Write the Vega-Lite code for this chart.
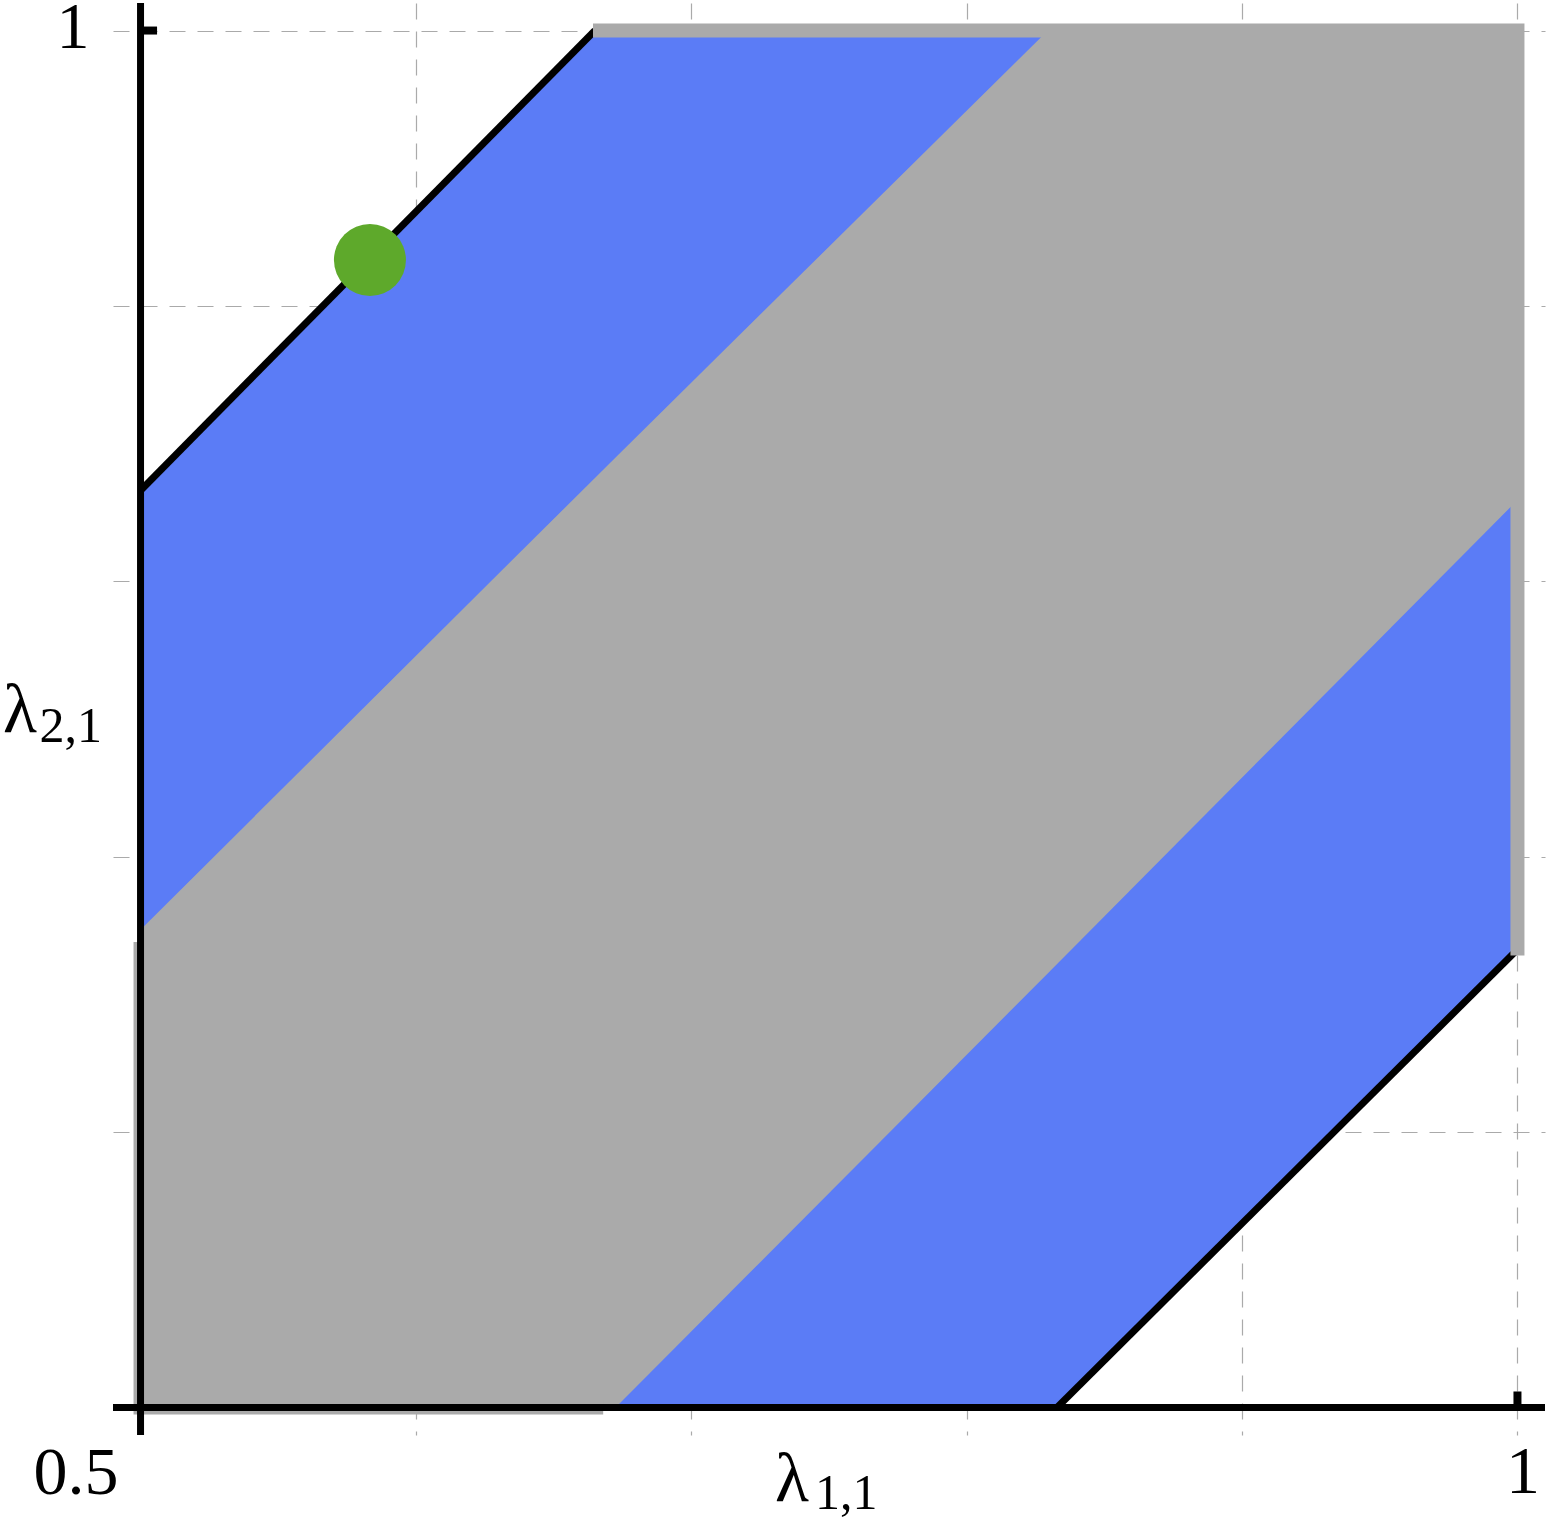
{
  "$schema": "https://vega.github.io/schema/vega-lite/v6.json",
  "width": 1432,
  "height": 1432,
  "autosize": {"type": "none"},
  "padding": {"left": 113, "top": 3, "right": 9, "bottom": 86},
  "background": "white",
  "config": {"view": {"stroke": null}},
  "encoding": {
    "x": {"field": "x", "type": "quantitative",
      "scale": {"domain": [0.49, 1.01], "nice": false, "zero": false},
      "axis": {"values": [0.6, 0.7, 0.8, 0.9, 1.0], "grid": true, "labels": false, "ticks": false, "domain": false, "title": null,
        "gridDash": [16, 12], "gridColor": "#aaaaaa", "gridWidth": 1.2}},
    "y": {"field": "y", "type": "quantitative",
      "scale": {"domain": [0.49, 1.01], "nice": false, "zero": false},
      "axis": {"values": [0.6, 0.7, 0.8, 0.9, 1.0], "grid": true, "labels": false, "ticks": false, "domain": false, "title": null,
        "gridDash": [16, 12], "gridColor": "#aaaaaa", "gridWidth": 1.2}}
  },
  "layer": [
    {
      "data": {"values": [
        {"x": 0.5, "y": 0.5, "y2": 0.833},
        {"x": 0.665, "y": 0.5, "y2": 1.0},
        {"x": 0.8328, "y": 0.5, "y2": 1.0},
        {"x": 1.0, "y": 0.6663, "y2": 1.0}
      ]},
      "mark": {"type": "area", "color": "#5B7CF6", "orient": "vertical", "opacity": 1},
      "encoding": {"y2": {"field": "y2"}}
    },
    {
      "data": {"values": [
        {"x": 0.5, "y": 0.5, "y2": 0.6735},
        {"x": 0.6725, "y": 0.5, "y2": 0.845},
        {"x": 0.8295, "y": 0.6577, "y2": 1.0},
        {"x": 1.0, "y": 0.8295, "y2": 1.0}
      ]},
      "mark": {"type": "area", "color": "#AAAAAA", "orient": "vertical", "opacity": 1},
      "encoding": {"y2": {"field": "y2"}}
    },
    {
      "data": {"values": [
        {"path": "lb", "seq": 1, "x": 0.5, "y": 0.669},
        {"path": "lb", "seq": 2, "x": 0.5, "y": 0.5},
        {"path": "lb", "seq": 3, "x": 0.668, "y": 0.5}
      ]},
      "mark": {"type": "line", "color": "#AAAAAA", "strokeWidth": 14, "strokeCap": "butt", "strokeJoin": "miter"},
      "encoding": {"detail": {"field": "path"}, "order": {"field": "seq", "type": "quantitative"}}
    },
    {
      "data": {"values": [
        {"x": 0.5, "y": 0.49, "x2": 0.5, "y2": 1.01},
        {"x": 0.49, "y": 0.5, "x2": 1.01, "y2": 0.5},
        {"x": 0.5, "y": 0.833, "x2": 0.665, "y2": 1.0},
        {"x": 0.8328, "y": 0.5, "x2": 1.0, "y2": 0.6663}
      ]},
      "mark": {"type": "rule", "color": "black", "strokeWidth": 7, "strokeCap": "butt"},
      "encoding": {"x2": {"field": "x2"}, "y2": {"field": "y2"}}
    },
    {
      "data": {"values": [
        {"x": 0.5, "y": 1.0, "x2": 0.506, "y2": 1.0},
        {"x": 1.0, "y": 0.5, "x2": 1.0, "y2": 0.5058}
      ]},
      "mark": {"type": "rule", "color": "black", "strokeWidth": 8, "strokeCap": "butt"},
      "encoding": {"x2": {"field": "x2"}, "y2": {"field": "y2"}}
    },
    {
      "data": {"values": [
        {"path": "tr", "seq": 1, "x": 0.6643, "y": 1.0},
        {"path": "tr", "seq": 2, "x": 1.0, "y": 1.0},
        {"path": "tr", "seq": 3, "x": 1.0, "y": 0.6641}
      ]},
      "mark": {"type": "line", "color": "#AAAAAA", "strokeWidth": 14, "strokeCap": "butt", "strokeJoin": "miter"},
      "encoding": {"detail": {"field": "path"}, "order": {"field": "seq", "type": "quantitative"}}
    },
    {
      "data": {"values": [{"x": 0.5833, "y": 0.9167}]},
      "mark": {"type": "point", "filled": true, "shape": "circle", "size": 5184, "color": "#5EA92B", "opacity": 1, "strokeWidth": 0}
    },
    {
      "data": {"values": [{"x": 0.5, "y": 1.0, "label": "1"}]},
      "mark": {"type": "text", "font": "Liberation Serif", "fontSize": 66, "align": "center", "baseline": "alphabetic", "dx": -67.5, "dy": 17, "color": "black"},
      "encoding": {"text": {"field": "label"}}
    },
    {
      "data": {"values": [{"x": 0.5, "y": 0.5, "label": "0.5"}]},
      "mark": {"type": "text", "font": "Liberation Serif", "fontSize": 68, "align": "center", "baseline": "alphabetic", "dx": -64.5, "dy": 87, "color": "black"},
      "encoding": {"text": {"field": "label"}}
    },
    {
      "data": {"values": [{"x": 1.0, "y": 0.5, "label": "1"}]},
      "mark": {"type": "text", "font": "Liberation Serif", "fontSize": 68, "align": "center", "baseline": "alphabetic", "dx": 5.5, "dy": 86, "color": "black"},
      "encoding": {"text": {"field": "label"}}
    },
    {
      "data": {"values": [{"x": 0.75, "y": 0.5, "label": "λ"}]},
      "mark": {"type": "text", "font": "Liberation Serif", "fontSize": 70, "align": "right", "baseline": "alphabetic", "dx": -20, "dy": 94, "color": "black"},
      "encoding": {"text": {"field": "label"}}
    },
    {
      "data": {"values": [{"x": 0.75, "y": 0.5, "label": "1,1"}]},
      "mark": {"type": "text", "font": "Liberation Serif", "fontSize": 50, "align": "left", "baseline": "alphabetic", "dx": -14, "dy": 102, "color": "black"},
      "encoding": {"text": {"field": "label"}}
    },
    {
      "data": {"values": [{"x": 0.5, "y": 0.75, "label": "λ"}]},
      "mark": {"type": "text", "font": "Liberation Serif", "fontSize": 70, "align": "right", "baseline": "alphabetic", "dx": -103.5, "dy": 13, "color": "black"},
      "encoding": {"text": {"field": "label"}}
    },
    {
      "data": {"values": [{"x": 0.5, "y": 0.75, "label": "2,1"}]},
      "mark": {"type": "text", "font": "Liberation Serif", "fontSize": 50, "align": "left", "baseline": "alphabetic", "dx": -101, "dy": 23, "color": "black"},
      "encoding": {"text": {"field": "label"}}
    }
  ]
}
